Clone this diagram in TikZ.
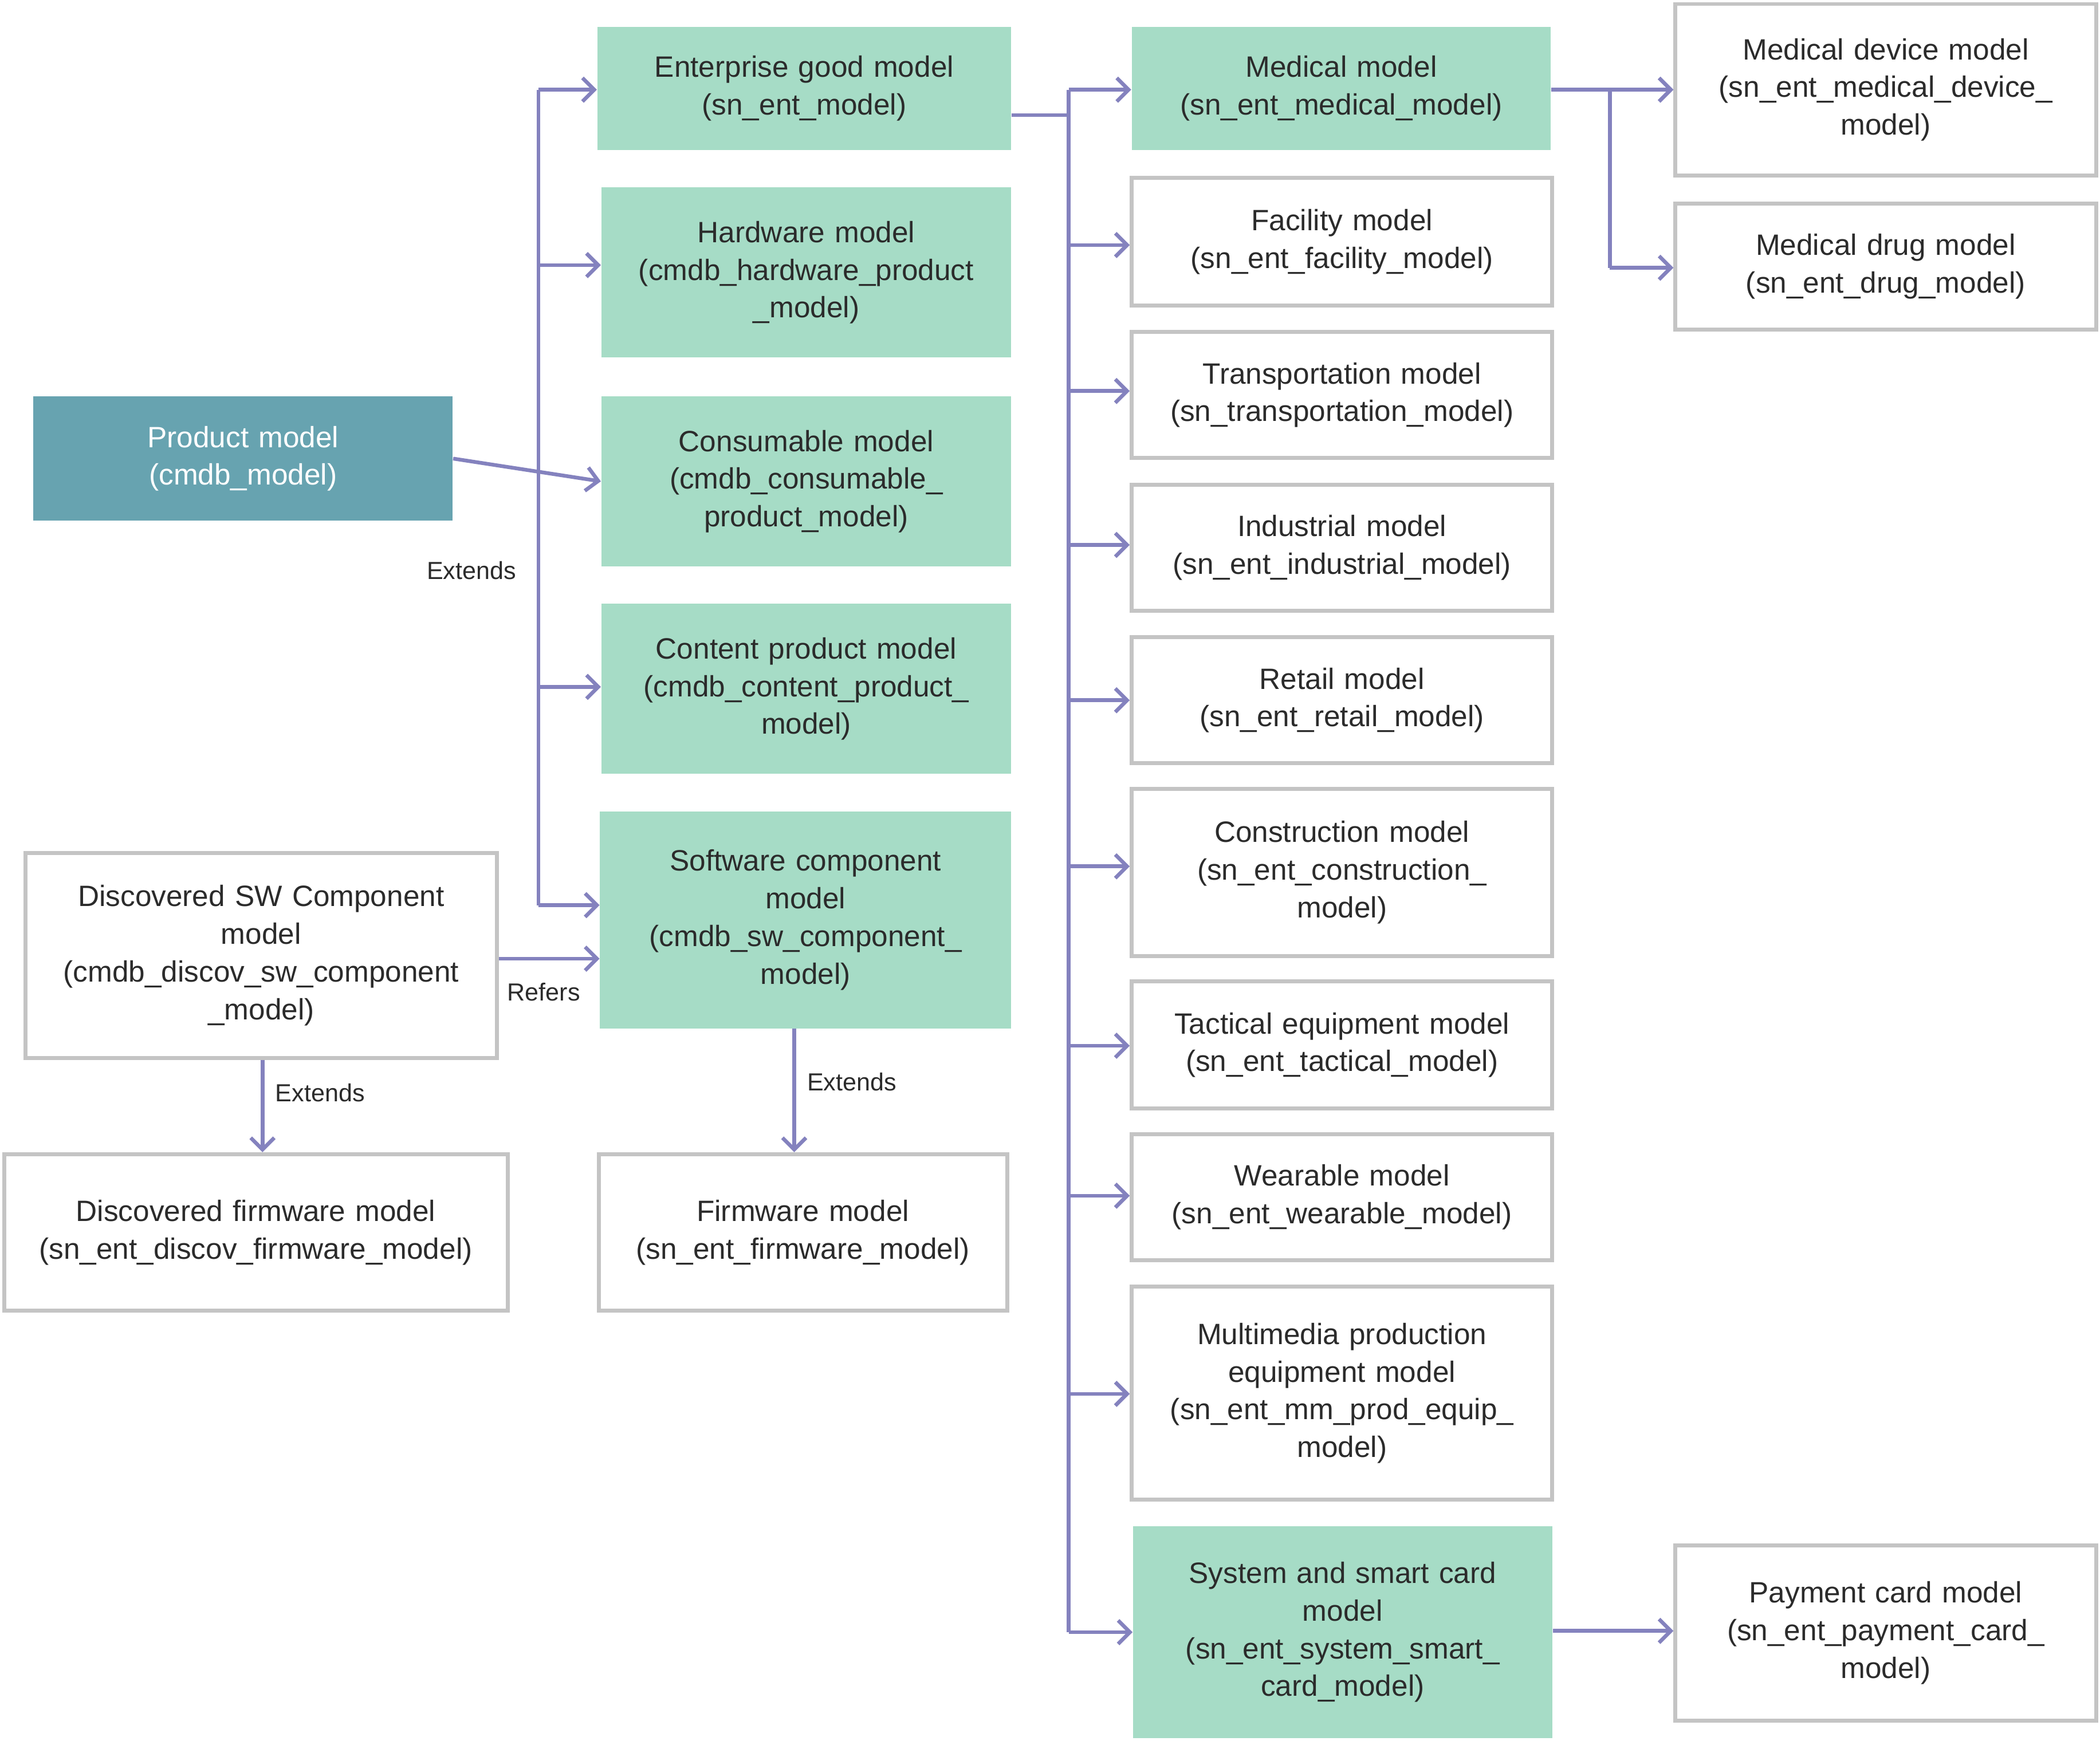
\documentclass[tikz,border=0pt]{standalone}
\usepackage{fontspec}
\setmainfont{Liberation Sans}
\usetikzlibrary{arrows.meta}
\definecolor{grn}{HTML}{A6DCC6}
\definecolor{teal}{HTML}{67A3B0}
\definecolor{bd}{HTML}{C4C4C4}
\definecolor{ln}{HTML}{8482BE}
\definecolor{tx}{HTML}{2B2B2B}
\newcommand{\bx}[7]{\node[#2, minimum width={(#5-#3)*0.02cm}, minimum height={(#6-#4)*0.02cm}, text width={(#5-#3)*0.02cm-0.3cm}] (#1) at ({(#3+#5)/2},{(#4+#6)/2}) {#7};}
\tikzset{
 base/.style={inner sep=0pt, align=center, font=\fontsize{12.5}{16}\selectfont, text=tx},
 gbox/.style={base, fill=grn},
 tbox/.style={base, fill=teal, text=white},
 wbox/.style={base, draw=bd, line width=1.7pt, fill=white},
 con/.style={draw=ln, line width=1.6pt},
 arr/.style={con, -{Straight Barb[length=5pt,width=10pt,line width=1.6pt]}},
 lbl/.style={font=\fontsize{10.5}{12}\selectfont, text=tx, inner sep=0pt}
}
\begin{document}
\begin{tikzpicture}[x=0.02cm,y=-0.02cm]
\useasboundingbox (0,0) rectangle (1568,1300);
\bx{pm}{tbox}{25}{296}{338}{389}{Product model\\(cmdb\_model)}
\bx{ent}{gbox}{446}{20}{755}{112}{Enterprise good model\\(sn\_ent\_model)}
\bx{hw}{gbox}{449}{140}{755}{267}{Hardware model\\(cmdb\_hardware\_product\\\_model)}
\bx{cons}{gbox}{449}{296}{755}{423}{Consumable model\\(cmdb\_consumable\_\\product\_model)}
\bx{cont}{gbox}{449}{451}{755}{578}{Content product model\\(cmdb\_content\_product\_\\model)}
\bx{sw}{gbox}{448}{606}{755}{768}{Software component\\model\\(cmdb\_sw\_component\_\\model)}
\bx{fw}{wbox}{447}{862}{752}{979}{Firmware model\\(sn\_ent\_firmware\_model)}
\bx{dsw}{wbox}{19}{637}{371}{790}{Discovered SW Component\\model\\(cmdb\_discov\_sw\_component\\\_model)}
\bx{dfw}{wbox}{3}{862}{379}{979}{Discovered firmware model\\(sn\_ent\_discov\_firmware\_model)}
\bx{med}{gbox}{845}{20}{1158}{112}{Medical model\\(sn\_ent\_medical\_model)}
\bx{fac}{wbox}{845}{133}{1159}{228}{Facility model\\(sn\_ent\_facility\_model)}
\bx{tra}{wbox}{845}{248}{1159}{342}{Transportation model\\(sn\_transportation\_model)}
\bx{ind}{wbox}{845}{362}{1159}{456}{Industrial model\\(sn\_ent\_industrial\_model)}
\bx{ret}{wbox}{845}{476}{1159}{570}{Retail model\\(sn\_ent\_retail\_model)}
\bx{con}{wbox}{845}{589}{1159}{714}{Construction model\\(sn\_ent\_construction\_\\model)}
\bx{tac}{wbox}{845}{733}{1159}{828}{Tactical equipment model\\(sn\_ent\_tactical\_model)}
\bx{wea}{wbox}{845}{847}{1159}{941}{Wearable model\\(sn\_ent\_wearable\_model)}
\bx{mm}{wbox}{845}{961}{1159}{1120}{Multimedia production\\equipment model\\(sn\_ent\_mm\_prod\_equip\_\\model)}
\bx{sys}{gbox}{846}{1140}{1159}{1298}{System and smart card\\model\\(sn\_ent\_system\_smart\_\\card\_model)}
\bx{mdev}{wbox}{1251}{3}{1565}{131}{Medical device model\\(sn\_ent\_medical\_device\_\\model)}
\bx{mdrug}{wbox}{1251}{152}{1565}{246}{Medical drug model\\(sn\_ent\_drug\_model)}
\bx{pay}{wbox}{1251}{1154}{1565}{1285}{Payment card model\\(sn\_ent\_payment\_card\_\\model)}
% left trunk
\coordinate (t1) at (402,67);
\coordinate (t2) at (402,676);
\draw[con] (t1) -- (t2);
\draw[arr] (pm.east) -- (cons.west);
\draw[arr] (t1) -- (t1 -| ent.west);
\draw[arr] (402,198) -- ([yshift=0pt]hw.west |- 402,198);
\draw[arr] (402,513) -- (cont.west |- 402,513);
\draw[arr] (t2) -- (sw.west |- t2);
\draw[arr] (dsw.east |- 0,716) -- (sw.west |- 0,716);
\node[lbl] (l1) at (352,426) {Extends};
\node[lbl] (l2) at (406,741) {Refers};
% right trunk
\coordinate (r1) at (798,67);
\coordinate (r2) at (798,1219);
\draw[con] (ent.east |- 0,86) -- (798,86);
\draw[con] (r1) -- (r2);
\foreach \n/\yy in {med/67,fac/183,tra/292,ind/407,ret/523,con/647,tac/781,wea/893,mm/1041,sys/1219}
  \draw[arr] (798,\yy) -- (\n.west |- 0,\yy);
% medical
\draw[arr] (med.east |- 0,67) -- (mdev.west |- 0,67);
\draw[con] (1202,67) -- (1202,200);
\draw[arr] (1202,200) -- (mdrug.west |- 0,200);
\draw[arr] (sys.east |- 0,1218) -- (pay.west |- 0,1218);
% extends down
\draw[arr] (sw.south -| 593,0) -- (fw.north -| 593,0);
\node[lbl] (l3) at (636,808) {Extends};
\draw[arr] (dsw.south -| 196,0) -- (dfw.north -| 196,0);
\node[lbl] (l4) at (239,816) {Extends};
\end{tikzpicture}
\end{document}
